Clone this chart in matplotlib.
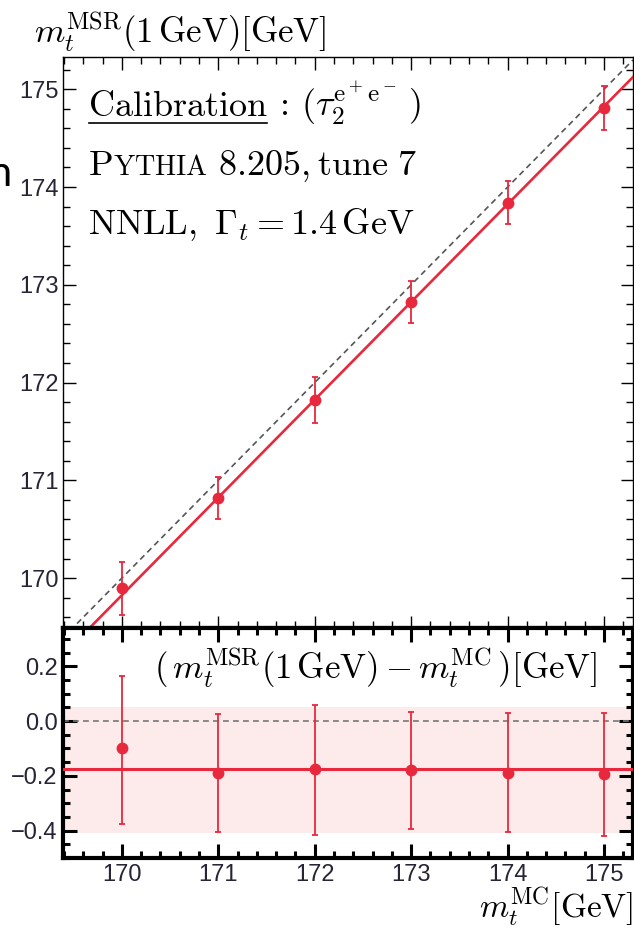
import matplotlib
matplotlib.use("Agg")
import matplotlib.pyplot as plt
from matplotlib.ticker import MultipleLocator, FixedLocator
from matplotlib.lines import Line2D

plt.rcParams['mathtext.fontset'] = 'cm'
plt.rcParams['font.family'] = ['Liberation Sans', 'DejaVu Sans']

# ---- data ----
mass_mc = [170, 171, 172, 173, 174, 175]
mass_msr = [169.90, 170.82, 171.825, 172.82, 173.84, 174.805]
offset = [-0.10, -0.19, -0.175, -0.18, -0.19, -0.195]
err_up = [0.265, 0.215, 0.235, 0.215, 0.22, 0.225]
err_down = [0.275, 0.215, 0.24, 0.215, 0.215, 0.225]
fit_offset = -0.175
band_low, band_high = -0.41, 0.05
x_ticks = [170, 171, 172, 173, 174, 175]
y_ticks_main = [170, 171, 172, 173, 174, 175]
y_ticks_diff = [-0.4, -0.2, 0.0, 0.2]

RED = '#e8283c'
TICKCOL = '#252535'
W, H = 634, 932

fig = plt.figure(figsize=(W / 100, H / 100), dpi=100)
left, right = 63 / W, 633 / W
ax = fig.add_axes([left, 1 - 628 / H, right - left, (628 - 57) / H])
axb = fig.add_axes([left, 1 - 858 / H, right - left, (858 - 628) / H])

xlim = (169.39, 175.30)

# ---- main panel ----
ax.plot(xlim, xlim, ls=(0, (3.5, 2.5)), color='#555555', lw=1.2, zorder=2)
ax.plot(xlim, [xlim[0] + fit_offset, xlim[1] + fit_offset], color=RED, lw=1.9, zorder=3)
ax.errorbar(mass_mc, mass_msr, yerr=[err_down, err_up], fmt='o', color=RED,
            ms=7.5, elinewidth=1.3, capsize=2.5, capthick=1.3, zorder=4)
ax.set_xlim(*xlim)
ax.set_ylim(169.49, 175.33)
ax.xaxis.set_major_locator(FixedLocator(x_ticks))
ax.xaxis.set_minor_locator(MultipleLocator(0.2))
ax.yaxis.set_major_locator(FixedLocator(y_ticks_main))
ax.yaxis.set_minor_locator(MultipleLocator(0.2))
ax.tick_params(which='both', direction='in', top=True, right=True, labelbottom=False,
               width=1.0, colors='black', labelcolor=TICKCOL, labelsize=17, pad=3)
ax.tick_params(which='major', length=9)
ax.tick_params(which='minor', length=5)
for s in ['top', 'left', 'right']:
    ax.spines[s].set_linewidth(1.0)
ax.spines['bottom'].set_linewidth(3.0)

# ---- lower panel ----
axb.axhspan(band_low, band_high, color='#fdeaea', lw=0, zorder=0)
axb.axhline(0.0, ls=(0, (3.5, 2.5)), color='#777777', lw=1.2, zorder=2)
axb.axhline(fit_offset, color=RED, lw=2.2, zorder=3)
axb.errorbar(mass_mc, offset, yerr=[err_down, err_up], fmt='o', color=RED,
             ms=7.5, elinewidth=1.3, capsize=2.5, capthick=1.3, zorder=4)
axb.set_xlim(*xlim)
axb.set_ylim(-0.50, 0.34)
axb.xaxis.set_major_locator(FixedLocator(x_ticks))
axb.xaxis.set_minor_locator(MultipleLocator(0.2))
axb.yaxis.set_major_locator(FixedLocator(y_ticks_diff))
axb.yaxis.set_minor_locator(MultipleLocator(0.05))
axb.yaxis.set_major_formatter(plt.FuncFormatter(lambda v, p: f"{v:.1f}".replace('-', '\u2212')))
axb.tick_params(which='both', direction='in', top=True, right=True,
                width=2.2, colors='black', labelcolor=TICKCOL, labelsize=17, pad=4)
axb.tick_params(which='major', length=10)
axb.tick_params(which='minor', length=5)
axb.tick_params(axis='x', pad=4)
for s in axb.spines.values():
    s.set_linewidth(3.0)

# ---- texts ----
fs = 26
xt = 169.65
t1 = ax.text(xt, 174.73, r'$\mathrm{Calibration}$', fontsize=fs, va='baseline', ha='left')
ax.annotate(r'$\,:\,(\tau_2^{\mathrm{e}^+\mathrm{e}^-}\,)$', xy=(1, 174.73), xycoords=(t1, 'data'),
            fontsize=fs, va='baseline', ha='left')
tp = ax.text(xt, 174.12, r'$\mathrm{P}$', fontsize=fs, va='baseline', ha='left')
ty = ax.annotate(r'$\mathrm{YTHIA}$', xy=(1, 174.12), xycoords=(tp, 'data'),
                 fontsize=fs * 0.78, va='baseline', ha='left')
ax.annotate(r'$\ 8.205,\mathrm{tune}\ 7$', xy=(1, 174.12), xycoords=(ty, 'data'),
            fontsize=fs, va='baseline', ha='left')
ax.text(xt, 173.52, r'$\mathrm{NNLL},\ \Gamma_t = 1.4\,\mathrm{GeV}$', fontsize=fs,
        va='baseline', ha='left')

axb.text(170.33, 0.155, r'$(\,m_t^{\mathrm{MSR}}(1\,\mathrm{GeV}) - m_t^{\mathrm{MC}}\,)[\mathrm{GeV}]$',
         fontsize=25, va='baseline', ha='left')

fig.text(34 / W, 1 - 43 / H, r'$m_t^{\mathrm{MSR}}(1\,\mathrm{GeV})[\mathrm{GeV}]$', fontsize=25,
         va='baseline', ha='left')
fig.text(633 / W, 1 - 918 / H, r'$m_t^{\mathrm{MC}}[\mathrm{GeV}]$', fontsize=24,
         va='baseline', ha='right')

# stray fragment of text at the left border
fig.text(11 / W, 1 - 186 / H, 'n', fontsize=30, family=['Lato', 'DejaVu Sans'],
         va='baseline', ha='right', color='black')

# underline under "Calibration"
fig.canvas.draw()
bb = t1.get_window_extent()
ytop = ax.transData.transform((0, 174.73))[1] - 7
fig.add_artist(Line2D([bb.x0 / W + 0.002, bb.x1 / W - 0.002], [ytop / H, ytop / H],
                      transform=fig.transFigure, color='black', lw=1.2))

fig.savefig('out.png', dpi=100)
